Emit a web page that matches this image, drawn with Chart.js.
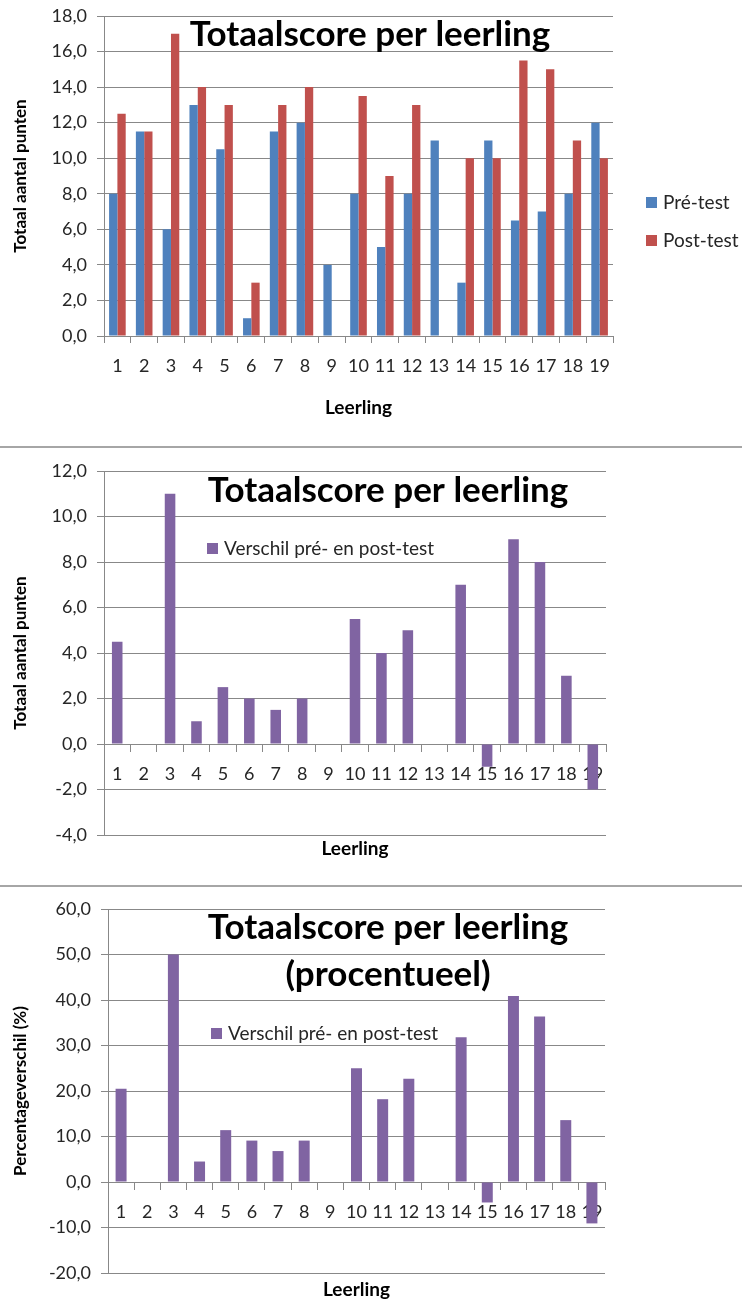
<!DOCTYPE html>
<html>
<head>
<meta charset="utf-8">
<script src="https://cdn.jsdelivr.net/npm/chart.js@4.4.0/dist/chart.umd.min.js"></script>
<style>
html,body{margin:0;padding:0;background:#fff;}
#wrap{position:relative;width:742px;height:1301px;overflow:hidden;}
canvas{position:absolute;left:0;}
.sep{position:absolute;left:0;width:742px;height:2px;background:#a6a6a6;}
</style>
</head>
<body>
<div id="wrap">
<canvas id="c1" width="742" height="440" style="top:0px"></canvas>
<div class="sep" style="top:446px"></div>
<canvas id="c2" width="742" height="438" style="top:448px"></canvas>
<div class="sep" style="top:885px"></div>
<canvas id="c3" width="742" height="414" style="top:887px"></canvas>
</div>
<script>
// ---------- data ----------
const students = ['1','2','3','4','5','6','7','8','9','10','11','12','13','14','15','16','17','18','19'];
const preTest  = [8, 11.5, 6, 13, 10.5, 1, 11.5, 12, 4, 8, 5, 8, 11, 3, 11, 6.5, 7, 8, 12];
const postTest = [12.5, 11.5, 17, 14, 13, 3, 13, 14, null, 13.5, 9, 13, null, 10, 10, 15.5, 15, 11, 10];
const diffPoints = [4.5, 0, 11, 1, 2.5, 2, 1.5, 2, null, 5.5, 4, 5, null, 7, -1, 9, 8, 3, -2];
const diffPercent = [20.5, 0, 50, 4.5, 11.4, 9.1, 6.8, 9.1, null, 25, 18.2, 22.7, null, 31.8, -4.5, 40.9, 36.4, 13.6, -9.1];
const chartTitle = 'Totaalscore per leerling';
const chartTitle3 = ['Totaalscore per leerling', '(procentueel)'];
const xTitle = 'Leerling';
const yTitle1 = 'Totaal aantal punten';
const yTitle3 = 'Percentageverschil (%)';
const legendPre = 'Pré-test';
const legendPost = 'Post-test';
const legendDiff = 'Verschil pré- en post-test';

// ---------- styles ----------
const BLUE = '#4F81BD', RED = '#C0504D', PURPLE = '#8064A2';
const GRID = '#888888', TXT = '#262626';
const FONT = 'Lato, "Open Sans", sans-serif';
const fmt = v => v.toFixed(1).replace('.', ',');

Chart.defaults.font.family = FONT;
Chart.defaults.color = TXT;

const overlay = {
  id: 'overlay',
  afterDraw(chart, args, opts) {
    const ctx = chart.ctx;
    ctx.save();
    (opts.titles || []).forEach(t => {
      ctx.font = 'bold 35px ' + FONT;
      ctx.fillStyle = '#000';
      ctx.textAlign = 'center';
      ctx.textBaseline = 'middle';
      ctx.fillText(t.text, t.x, t.y);
    });
    (opts.legend || []).forEach(l => {
      ctx.fillStyle = l.color;
      ctx.fillRect(l.x, l.y - 5, 11, 11);
      ctx.font = '19px ' + FONT;
      ctx.fillStyle = TXT;
      ctx.textAlign = 'left';
      ctx.textBaseline = 'middle';
      ctx.fillText(l.text, l.x + 17, l.y + 1);
    });
    ctx.restore();
  }
};

function yScale(min, max, step, title, width) {
  return {
    min: min, max: max,
    ticks: { stepSize: step, callback: v => fmt(v), font: { size: 18 }, padding: 10, color: TXT },
    grid: { color: GRID, tickLength: 7, drawTicks: true, tickColor: GRID },
    border: { color: GRID, width: 1 },
    title: { display: true, text: title, font: { size: 17, weight: 'bold' }, color: '#000', padding: { top: 10, bottom: 4 } },
    afterFit(s) { s.width = width; s.paddingTop = 0; s.paddingBottom = 0; }
  };
}

// ---------- chart 1 ----------
new Chart(document.getElementById('c1'), {
  type: 'bar',
  data: {
    labels: students,
    datasets: [
      { label: legendPre, data: preTest, backgroundColor: BLUE, categoryPercentage: 0.62, barPercentage: 1.0 },
      { label: legendPost, data: postTest, backgroundColor: RED, categoryPercentage: 0.62, barPercentage: 1.0 }
    ]
  },
  options: {
    responsive: false, animation: false, devicePixelRatio: 1,
    layout: { padding: { left: 0, right: 129, top: 16, bottom: 0 } },
    plugins: {
      legend: { display: false }, tooltip: { enabled: false },
      overlay: {
        titles: [{ text: chartTitle, x: 370, y: 35 }],
        legend: [{ text: legendPre, color: BLUE, x: 646, y: 202 }, { text: legendPost, color: RED, x: 646, y: 240 }]
      }
    },
    scales: {
      x: {
        offset: true,
        grid: { offset: true, drawOnChartArea: false, tickLength: 7, color: GRID },
        border: { color: GRID },
        ticks: { font: { size: 18 }, padding: 12, color: TXT, maxRotation: 0, autoSkip: false },
        title: { display: true, text: xTitle, font: { size: 19, weight: 'bold' }, color: '#000', padding: { top: 10, bottom: 21 } },
        afterFit(s) { s.height = 104; s.paddingLeft = 0; s.paddingRight = 0; }
      },
      y: yScale(0, 18, 2, yTitle1, 104)
    }
  },
  plugins: [overlay]
});

// ---------- chart 2 & 3 ----------
function diffChart(id, data, min, max, step, yt, yWidth, padTop, padRight, xHeight, xTitlePadBottom, titles, legend, barPct) {
  new Chart(document.getElementById(id), {
    type: 'bar',
    data: {
      labels: students,
      datasets: [{ label: legendDiff, data: data, backgroundColor: PURPLE, categoryPercentage: 1.0, barPercentage: barPct, xAxisID: 'x' }]
    },
    options: {
      responsive: false, animation: false, devicePixelRatio: 1,
      layout: { padding: { left: 0, right: padRight, top: padTop, bottom: 0 } },
      plugins: {
        legend: { display: false }, tooltip: { enabled: false },
        overlay: { titles: titles, legend: legend }
      },
      scales: {
        x: {
          offset: true,
          grid: { display: false }, border: { display: false },
          ticks: { display: false },
          title: { display: true, text: xTitle, font: { size: 19, weight: 'bold' }, color: '#000', padding: { top: 0, bottom: xTitlePadBottom } },
          afterFit(s) { s.height = xHeight; }
        },
        x2: {
          type: 'category', labels: students, axis: 'x', offset: true,
          position: { y: 0 },
          grid: { offset: true, drawOnChartArea: false, tickLength: 7, color: GRID },
          border: { color: GRID },
          ticks: { font: { size: 18 }, padding: 12, color: TXT, maxRotation: 0, autoSkip: false }
        },
        y: yScale(min, max, step, yt, yWidth)
      }
    },
    plugins: [overlay]
  });
}

diffChart('c2', diffPoints, -4, 12, 2, yTitle1, 104, 23, 136, 51, 26,
  [{ text: chartTitle, x: 388, y: 43 }],
  [{ text: legendDiff, color: PURPLE, x: 207, y: 100 }], 0.4);

diffChart('c3', diffPercent, -20, 60, 10, yTitle3, 108, 22, 137, 28, 0,
  [{ text: chartTitle3[0], x: 388, y: 41 }, { text: chartTitle3[1], x: 388, y: 88 }],
  [{ text: legendDiff, color: PURPLE, x: 211, y: 146 }], 0.42);
</script>
</body>
</html>
